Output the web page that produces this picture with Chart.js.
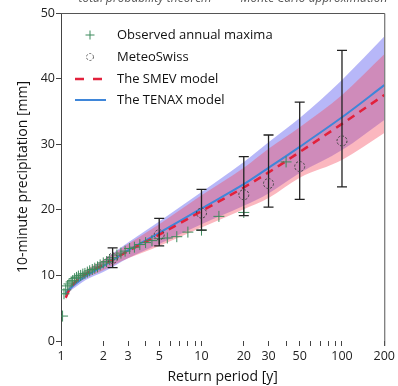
<!DOCTYPE html>
<html>
<head>
<meta charset="utf-8">
<script src="https://cdn.jsdelivr.net/npm/chart.js@4.4.1/dist/chart.umd.min.js"></script>
<style>
  html, body { margin: 0; padding: 0; background: #fff; }
  #wrap { width: 398px; height: 386px; position: relative; }
</style>
</head>
<body>
<div id="wrap"><canvas id="chart" width="398" height="386"></canvas></div>
<script>
// Observed annual maxima (return period, precipitation)
const obsT = [40, 20, 13.3, 10, 8, 6.67, 5.71, 5, 4.44, 4, 3.64, 3.33, 3.08, 2.86, 2.67, 2.5, 2.35, 2.22, 2.11, 2.0,
  1.9, 1.82, 1.74, 1.67, 1.6, 1.54, 1.48, 1.43, 1.38, 1.33, 1.29, 1.25, 1.21, 1.18, 1.14, 1.11, 1.08, 1.05, 1.026];
const obsP = [27.3, 19.6, 19.0, 16.9, 16.6, 15.9, 15.7, 15.6, 15.3, 15.0, 14.7, 14.3, 14.1, 13.7, 13.4, 13.1, 12.7, 12.4, 12.1, 11.9,
  11.6, 11.3, 11.1, 10.9, 10.7, 10.5, 10.3, 10.2, 10.0, 9.9, 9.7, 9.5, 9.2, 9.0, 8.7, 8.4, 7.8, 7.2, 3.8];

// MeteoSwiss estimates with uncertainty range
const msT = [2.33, 5, 10, 20, 30, 50, 100];
const msP = [12.6, 16.2, 19.5, 22.3, 24.0, 26.6, 30.5];
const msLo = [11.2, 14.5, 16.9, 19.1, 20.4, 21.6, 23.5];
const msHi = [14.2, 18.7, 23.1, 28.1, 31.4, 36.4, 44.3];

// Model curves
const modelT = [1.08, 1.15, 1.25, 1.5, 2, 3, 5, 10, 20, 30, 50, 100, 200];
const tenax = [7.3, 7.9, 8.6, 9.9, 11.4, 13.8, 16.5, 20.2, 23.9, 26.4, 29.6, 34.1, 39.0];
const tenaxLo = [6.9, 7.5, 8.1, 9.3, 10.5, 12.6, 14.8, 17.8, 20.6, 22.5, 25.6, 29.1, 33.7];
const tenaxHi = [7.7, 8.3, 9.1, 10.5, 12.3, 15.0, 18.2, 22.7, 27.3, 30.3, 34.0, 39.8, 46.4];
const smev = [6.6, 7.9, 8.9, 10.2, 11.6, 13.7, 16.2, 19.8, 23.4, 25.7, 28.8, 33.1, 37.5];
const smevLo = [6.2, 7.4, 8.4, 9.6, 10.8, 12.6, 14.5, 17.3, 20.1, 21.8, 24.9, 27.6, 31.7];
const smevHi = [7.0, 8.4, 9.4, 10.8, 12.4, 14.8, 17.8, 22.2, 26.4, 29.3, 32.6, 37.5, 43.7];

// Axis ticks
const xTicks = [1, 2, 3, 4, 5, 6, 7, 8, 9, 10, 20, 30, 40, 50, 60, 70, 80, 90, 100, 200];
const xLabels = [1, 2, 3, 5, 10, 20, 30, 50, 100, 200];

const legendItems = ['Observed annual maxima', 'MeteoSwiss', 'The SMEV model', 'The TENAX model'];

const FONT = "'Open Sans', 'Noto Sans', sans-serif";
const GREEN = '#3d8a5c';
const BLUE = '#3f86d9';
const RED = '#e2213c';
const INK = '#444';

const pts = (xs, ys) => xs.map((x, i) => ({ x: x, y: ys[i] }));

// Error bars, dashed circles, frame, legend and header text
const extras = {
  id: 'extras',
  afterDatasetsDraw(chart) {
    const ctx = chart.ctx;
    const xs = chart.scales.x, ys = chart.scales.y;
    const meta = chart.getDatasetMeta(1);
    ctx.save();
    ctx.strokeStyle = '#222';
    ctx.lineWidth = 1.3;
    msT.forEach((t, i) => {
      const px = xs.getPixelForValue(t);
      const y1 = ys.getPixelForValue(msLo[i]);
      const y2 = ys.getPixelForValue(msHi[i]);
      ctx.beginPath();
      ctx.moveTo(px, y1); ctx.lineTo(px, y2);
      ctx.moveTo(px - 5, y1); ctx.lineTo(px + 5, y1);
      ctx.moveTo(px - 5, y2); ctx.lineTo(px + 5, y2);
      ctx.stroke();
    });
    ctx.strokeStyle = '#444';
    ctx.lineWidth = 1;
    ctx.setLineDash([2.2, 1.6]);
    meta.data.forEach(el => {
      ctx.beginPath();
      ctx.arc(el.x, el.y, 5, 0, Math.PI * 2);
      ctx.stroke();
    });
    ctx.restore();
  },
  afterDraw(chart) {
    const ctx = chart.ctx;
    const a = chart.chartArea;
    ctx.save();
    // top and right frame
    ctx.strokeStyle = '#555';
    ctx.lineWidth = 1;
    ctx.beginPath();
    ctx.moveTo(a.left, a.top + 0.5);
    ctx.lineTo(a.right + 0.5, a.top + 0.5);
    ctx.lineTo(a.right + 0.5, a.bottom + 5);
    ctx.stroke();

    // legend
    const lx = 90, tx = 117, rows = [35, 57, 79, 100];
    ctx.font = '13px ' + FONT;
    ctx.fillStyle = '#111';
    ctx.textBaseline = 'middle';
    legendItems.forEach((s, i) => ctx.fillText(s, tx, rows[i]));
    ctx.strokeStyle = GREEN;
    ctx.lineWidth = 1;
    ctx.beginPath();
    ctx.moveTo(lx - 4.5, rows[0]); ctx.lineTo(lx + 4.5, rows[0]);
    ctx.moveTo(lx, rows[0] - 4.5); ctx.lineTo(lx, rows[0] + 4.5);
    ctx.stroke();
    ctx.strokeStyle = '#666';
    ctx.lineWidth = 1;
    ctx.setLineDash([2.2, 1.6]);
    ctx.beginPath();
    ctx.arc(lx, rows[1], 3.5, 0, Math.PI * 2);
    ctx.stroke();
    ctx.setLineDash([9, 9]);
    ctx.strokeStyle = RED;
    ctx.lineWidth = 2.5;
    ctx.beginPath();
    ctx.moveTo(75, rows[2]); ctx.lineTo(104, rows[2]);
    ctx.stroke();
    ctx.setLineDash([]);
    ctx.strokeStyle = BLUE;
    ctx.lineWidth = 2;
    ctx.beginPath();
    ctx.moveTo(75, rows[3]); ctx.lineTo(106, rows[3]);
    ctx.stroke();

    // header captions, cut by the top edge
    ctx.font = 'italic 12px ' + FONT;
    ctx.fillStyle = '#555';
    ctx.textBaseline = 'alphabetic';
    ctx.textAlign = 'center';
    ctx.fillText('total probability theorem', 145, 2);
    ctx.fillText('Monte Carlo approximation', 314, 2);
    ctx.restore();
  }
};

new Chart(document.getElementById('chart'), {
  type: 'line',
  data: {
    datasets: [
      {
        label: 'Observed annual maxima',
        data: pts(obsT, obsP),
        showLine: false,
        pointStyle: 'cross',
        pointRadius: 5.5,
        pointBorderWidth: 1,
        borderColor: GREEN,
        pointBorderColor: GREEN
      },
      {
        label: 'MeteoSwiss',
        data: pts(msT, msP),
        showLine: false,
        pointRadius: 0
      },
      {
        label: 'The SMEV model',
        data: pts(modelT, smev),
        borderColor: RED,
        borderWidth: 2.5,
        borderDash: [8, 6],
        pointRadius: 0,
        cubicInterpolationMode: 'monotone'
      },
      {
        label: 'The TENAX model',
        data: pts(modelT, tenax),
        borderColor: BLUE,
        borderWidth: 2,
        pointRadius: 0,
        cubicInterpolationMode: 'monotone'
      },
      {
        label: 'SMEV upper',
        data: pts(modelT, smevHi),
        borderWidth: 0,
        pointRadius: 0,
        fill: '+1',
        backgroundColor: 'rgba(245,75,95,0.4)',
        cubicInterpolationMode: 'monotone'
      },
      {
        label: 'SMEV lower',
        data: pts(modelT, smevLo),
        borderWidth: 0,
        pointRadius: 0,
        fill: false,
        cubicInterpolationMode: 'monotone'
      },
      {
        label: 'TENAX upper',
        data: pts(modelT, tenaxHi),
        borderWidth: 0,
        pointRadius: 0,
        fill: '+1',
        backgroundColor: 'rgba(95,95,240,0.45)',
        cubicInterpolationMode: 'monotone'
      },
      {
        label: 'TENAX lower',
        data: pts(modelT, tenaxLo),
        borderWidth: 0,
        pointRadius: 0,
        fill: false,
        cubicInterpolationMode: 'monotone'
      }
    ]
  },
  options: {
    responsive: false,
    animation: false,
    layout: { padding: { top: 13, right: 10, left: 0, bottom: 0 } },
    plugins: {
      legend: { display: false },
      tooltip: { enabled: false }
    },
    scales: {
      x: {
        type: 'logarithmic',
        min: 1,
        max: 200,
        afterFit: s => { s.height = 45; },
        afterBuildTicks: s => { s.ticks = xTicks.map(v => ({ value: v })); },
        grid: { drawOnChartArea: false, tickLength: 5, color: INK, lineWidth: 1 },
        border: { display: false },
        ticks: {
          autoSkip: false,
          maxRotation: 0,
          padding: 3,
          color: '#222',
          font: { family: FONT, size: 12.5 },
          callback: v => xLabels.includes(v) ? String(v) : ''
        },
        title: {
          display: true,
          text: 'Return period [y]',
          color: '#111',
          font: { family: FONT, size: 14 },
          padding: { top: 0, bottom: 1 }
        }
      },
      y: {
        min: 0,
        max: 50,
        afterFit: s => { s.width = 61; },
        grid: { drawOnChartArea: false, tickLength: 5, color: INK },
        border: { color: INK, width: 1 },
        ticks: {
          stepSize: 10,
          padding: 1,
          color: '#222',
          font: { family: FONT, size: 12.5 }
        },
        title: {
          display: true,
          text: '10-minute precipitation [mm]',
          color: '#111',
          font: { family: FONT, size: 14 },
          padding: { top: 15, bottom: 0 }
        }
      }
    }
  },
  plugins: [extras]
});
</script>
</body>
</html>
